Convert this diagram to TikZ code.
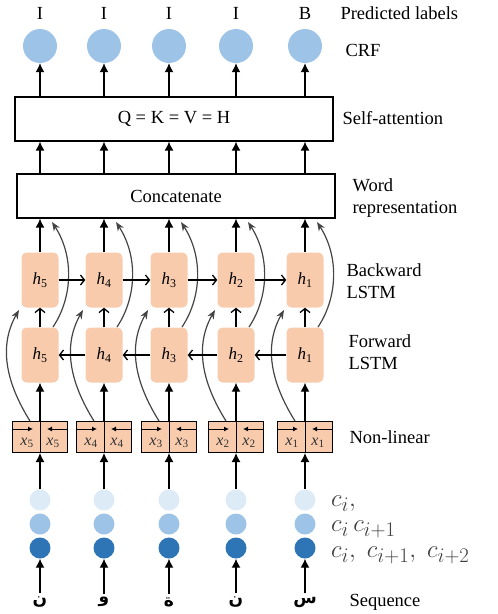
\documentclass[tikz,border=0pt]{standalone}
\usepackage{fontspec}
\setmainfont{Liberation Serif}
\newfontfamily\arabicfont[Script=Arabic]{DejaVu Sans}
\TeXXeTstate=1
\usetikzlibrary{arrows.meta}

\definecolor{crfblue}{HTML}{9DC3E6}
\definecolor{paleblue}{HTML}{DDEBF7}
\definecolor{deepblue}{HTML}{2E75B6}
\definecolor{peach}{HTML}{F8CBAD}
\definecolor{curvegray}{HTML}{444444}

\tikzset{
  lstm/.style={fill=peach, rounded corners=5pt, minimum width=37pt, minimum height=55pt, inner sep=0pt, font=\fontsize{17}{19}\selectfont},
  layerbox/.style={draw, line width=1.2pt, minimum width=318pt, minimum height=44pt, font=\fontsize{18.5}{21}\selectfont},
  nlbox/.style={draw, fill=peach, line width=1pt, minimum width=55pt, minimum height=31pt, inner sep=0pt},
  dot/.style={circle, inner sep=0pt, minimum size=#1},
  side/.style={anchor=west, align=left, font=\fontsize{18.5}{22}\selectfont},
  ctext/.style={anchor=base west, inner sep=0pt, text=black!75, font=\fontsize{30}{32}\selectfont},
  up/.style={-{Latex[length=9pt,width=9pt]}, line width=1.3pt},
  openup/.style={-{Straight Barb[length=4pt,width=10pt]}, line width=1.3pt},
  skiparrow/.style={curvegray, line width=1.2pt, -{Stealth[length=9pt,width=7pt]}},
}

\begin{document}
\begin{tikzpicture}[x=1pt,y=-1pt]
\useasboundingbox (0,0) rectangle (498,614);

% layers
\node[layerbox] (att) at (174,119) {Q = K = V = H};
\node[layerbox] (concat) at (176,196) {Concatenate};

% columns
\foreach \i/\cx/\tag/\h/\ch in {1/40/I/5/ن, 2/104/I/4/و, 3/169/I/3/ة, 4/236/I/2/ن, 5/305/B/1/س}{
  \node[font=\fontsize{18.5}{21}\selectfont] (tag\i) at (\cx,13) {\tag};
  \node[dot=34pt, fill=crfblue] (crf\i) at (\cx,46) {};
  \node[lstm] (bw\i) at (\cx,280) {\textit{h}\textsubscript{\h}};
  \node[lstm] (fw\i) at (\cx,355) {\textit{h}\textsubscript{\h}};
  \node[nlbox] (nl\i) at (\cx,437) {};
  \node[dot=21pt, fill=paleblue] (ca\i) at (\cx,500) {};
  \node[dot=21pt, fill=crfblue] (cb\i) at (\cx,524) {};
  \node[dot=21pt, fill=deepblue] (cc\i) at (\cx,548) {};
  \node[font=\arabicfont\bfseries\fontsize{17}{19}\selectfont] (seq\i) at (\cx,602) {\beginR\ch\endR};
  % inside the non-linear box
  \draw[line width=1pt] (nl\i.north) -- (nl\i.south);
  \draw[line width=0.9pt, -{Latex[length=5pt,width=5pt]}] (\cx-27.5,429) -- (\cx-7,429);
  \draw[line width=0.9pt, -{Latex[length=5pt,width=5pt]}] (\cx+27.5,429) -- (\cx+7,429);
  \node[font=\fontsize{16}{18}\selectfont, text=black!80] (xf\i) at (\cx-13,443) {\textit{x}\textsubscript{\h}};
  \node[font=\fontsize{16}{18}\selectfont, text=black!80] (xb\i) at (\cx+13,443) {\textit{x}\textsubscript{\h}};
  % vertical flow
  \draw[up] (seq\i.north) -- (cc\i.south);
  \draw[up] (ca\i.north) -- (nl\i.south);
  \draw[up] (nl\i.north) -- (fw\i.south);
  \draw[openup] (fw\i.north) -- (bw\i.south);
  \draw[up] (bw\i.north) -- (bw\i.north |- concat.south);
  \draw[up] (concat.north -| bw\i) -- (att.south -| bw\i);
  \draw[up] (att.north -| crf\i) -- (crf\i.south);
  % skip connections
  \coordinate (sa\i) at (\cx-10,421);
  \coordinate (ea\i) at (\cx-21,310);
  \coordinate (sb\i) at (\cx+13,327);
  \coordinate (eb\i) at (\cx+12,222);
  \draw[skiparrow] (sa\i) .. controls +(-25,-40) and +(-20,35) .. (ea\i);
  \draw[skiparrow] (sb\i) .. controls +(20,-30) and +(22,34) .. (eb\i);
}

% recurrent links
\foreach \i/\j in {1/2,2/3,3/4,4/5}{
  \draw[openup] (bw\i) -- (bw\j);
  \draw[openup] (fw\j) -- (fw\i);
}

% labels on the right
\node[side] (lpred) at (337,13) {Predicted labels};
\node[side] (lcrf) at (342,50) {CRF};
\node[side] (latt) at (339,118) {Self-attention};
\node[side] (lword) at (349,198) {Word\\representation};
\node[side] (lbw) at (343,281) {Backward\\LSTM};
\node[side] (lfw) at (345,352) {Forward\\LSTM};
\node[side] (lnl) at (346,437) {Non-linear};
\node[side] (lseq) at (346,602) {Sequence};
\node[ctext] (lc1) at (331,506) {$c_i,$};
\node[ctext] (lc2) at (331,531) {$c_i\,c_{i+1}$};
\node[ctext] (lc3) at (331,557) {$c_i,\;c_{i+1},\;c_{i+2}$};
\end{tikzpicture}
\end{document}
